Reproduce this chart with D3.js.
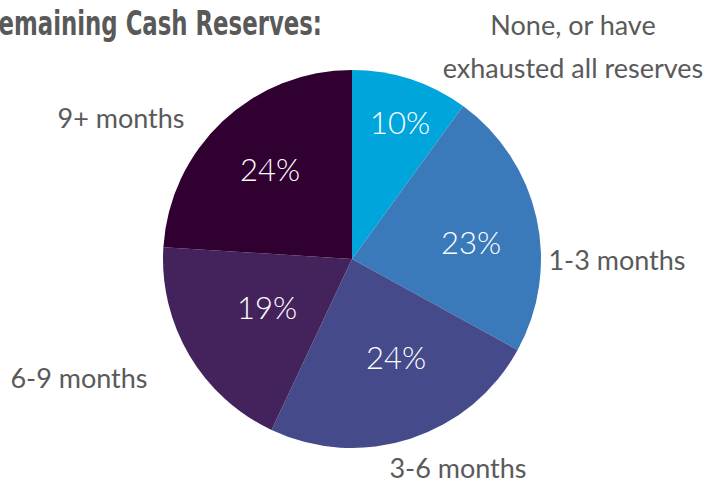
<!DOCTYPE html>
<html>
<head>
<meta charset="utf-8">
<script src="https://cdn.jsdelivr.net/npm/d3@7"></script>
<style>
  body { margin: 0; background: #fff; }
  svg text { font-family: "Lato", "Open Sans", sans-serif; }
</style>
</head>
<body>
<div id="chart"></div>
<script>
// slice categories and values (percent)
var categories = ["None, or have exhausted all reserves", "1-3 months", "3-6 months", "6-9 months", "9+ months"];
var values = [10, 23, 24, 19, 24];
var colors = ["#00a6db", "#3a7aba", "#454a8a", "#44225c", "#300030"];

var width = 715, height = 483;
var cx = 352, cy = 259, radius = 189;

// label placement (offsets from pie centre), kept apart from the data
var pctOffsets = [[48, -136], [119, -16], [44, 99], [-85, 49], [-82, -89]];
var nameOffsets = [[221, -224], [265, 11], [106, 219], [-273, 129], [-231, -131]];
var labelLines = [["None, or have", "exhausted all reserves"], ["1-3 months"], ["3-6 months"], ["6-9 months"], ["9+ months"]];

var svg = d3.select("#chart").append("svg")
    .attr("width", width).attr("height", height);

// title, cut off at the left like the original
svg.append("text")
    .attr("x", -19).attr("y", 35)
    .attr("textLength", 341)
    .attr("lengthAdjust", "spacingAndGlyphs")
    .style("font-family", "'DejaVu Sans Condensed', 'DejaVu Sans', sans-serif")
    .style("font-weight", "bold")
    .style("font-size", "33px")
    .attr("fill", "#595959")
    .text("Remaining Cash Reserves:");

var pie = d3.pie().sort(null).value(function(d) { return d; });
var arc = d3.arc().innerRadius(0).outerRadius(radius);

var g = svg.append("g").attr("transform", "translate(" + cx + "," + cy + ")");
var arcs = pie(values);

g.selectAll("path").data(arcs).enter().append("path")
    .attr("d", arc)
    .attr("fill", function(d, i) { return colors[i]; });

// percent labels inside slices
g.selectAll("text.pct").data(arcs).enter().append("text")
    .attr("class", "pct")
    .attr("x", function(d, i) { return pctOffsets[i][0]; })
    .attr("y", function(d, i) { return pctOffsets[i][1]; })
    .attr("text-anchor", "middle")
    .attr("dy", "0.35em")
    .attr("fill", "#fff")
    .style("font-size", "31px")
    .style("font-weight", "300")
    .text(function(d) { return d.value + "%"; });

// outside category labels
arcs.forEach(function(d, i) {
  var p = nameOffsets[i];
  var t = g.append("text")
      .attr("text-anchor", "middle")
      .attr("fill", "#5a5a5a")
      .style("font-size", "27px")
      .style("font-weight", "400");
  labelLines[i].forEach(function(line, j) {
    t.append("tspan")
      .attr("x", p[0])
      .attr("y", p[1] + j * 43)
      .text(line);
  });
});
</script>
</body>
</html>
